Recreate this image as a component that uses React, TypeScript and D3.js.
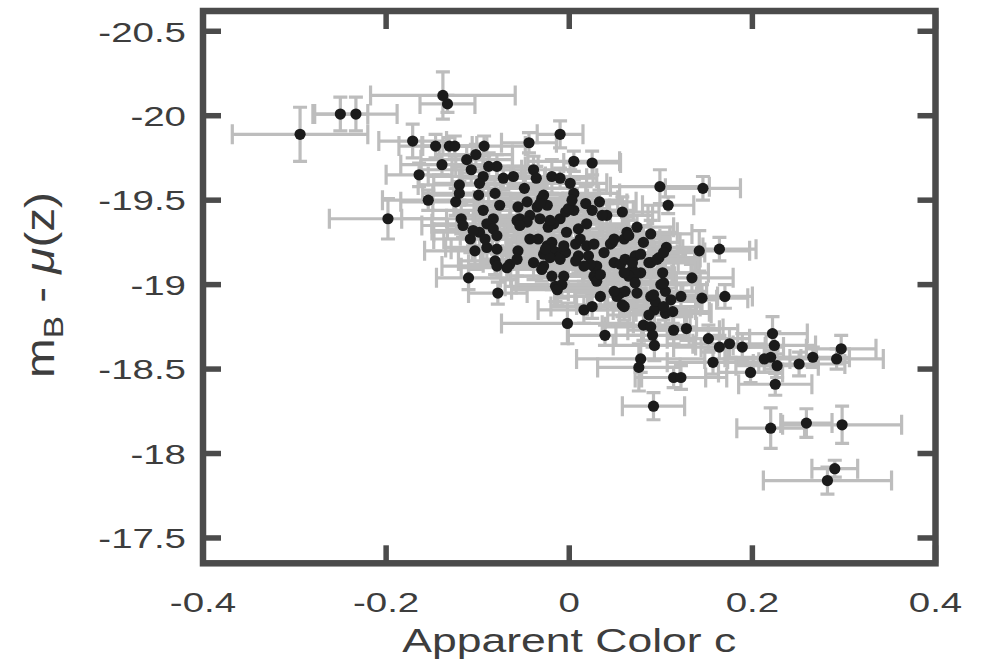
import { useEffect, useRef } from 'react';
import * as d3 from 'd3';

const W = 987;
const H = 669;

// apparent colour c of each supernova
const colorC = [
  -0.294, -0.250, -0.233, -0.138, -0.133, -0.171, -0.146, -0.131, -0.125, -0.093,
  -0.044, -0.010, -0.139, -0.164, -0.154, -0.198, -0.110, -0.078, 0.005, 0.025,
  0.099, 0.146, 0.108, -0.112, -0.102, -0.107, -0.079, -0.088, -0.094, -0.098,
  -0.120, -0.124, -0.120, -0.099, -0.072, -0.061, -0.049, -0.039, -0.036, -0.019,
  -0.010, -0.094, -0.081, -0.076, -0.083, -0.090, -0.118, -0.116, -0.098, -0.108,
  -0.103, -0.090, -0.079, -0.081, -0.079, -0.065, -0.056, -0.057, -0.056, -0.046,
  -0.054, -0.043, -0.035, -0.028, -0.024, -0.032, -0.023, -0.010, -0.003, -0.034,
  -0.024, -0.039, -0.028, -0.013, -0.019, -0.083, -0.004, 0.005, 0.018, 0.033,
  0.005, 0.025, 0.041, 0.058, 0.010, 0.019, 0.074, 0.063, 0.089, 0.060,
  0.081, 0.007, 0.045, 0.038, -0.004, 0.010, 0.021, 0.030, 0.049, 0.056,
  0.072, 0.078, 0.087, 0.098, 0.106, 0.102, 0.069, 0.078, 0.142, 0.164,
  0.134, -0.006, 0.145, 0.170, 0.105, 0.089, 0.122, 0.093, 0.105, 0.113,
  0.081, 0.089, 0.091, 0.093, 0.114, 0.128, 0.039, -0.002, 0.016, 0.025,
  0.078, 0.076, 0.114, 0.122, 0.152, 0.164, 0.175, 0.189, 0.157, 0.198,
  0.222, 0.224, 0.220, 0.213, 0.227, 0.225, 0.251, 0.266, 0.292, 0.297,
  0.092, -0.019, -0.019, 0.028, 0.027, 0.030, -0.015, 0.034, 0.047, 0.072,
  0.065, 0.072, 0.056, 0.061, 0.052, 0.089, 0.096, 0.058, 0.100, 0.094,
  0.074, 0.034, -0.008, -0.030, -0.013, -0.092, -0.068, -0.028, -0.021, -0.010,
  0.007, 0.023, 0.049, 0.060, 0.061, 0.069, 0.065, 0.103, 0.092, 0.103,
  0.103, 0.111, 0.087, 0.060, 0.036, -0.001, 0.001, 0.003, 0.012, 0.019,
  -0.030, -0.057, -0.046, -0.017, -0.105, -0.079, -0.043, 0.016, 0.220, 0.259,
  0.298, 0.290, 0.282, -0.054, -0.032, -0.021, -0.026, -0.006, 0.027, 0.049,
];

// m_B - mu(z)
const magDiff = [
  -19.89, -20.01, -20.01, -20.12, -20.07, -19.85, -19.82, -19.82, -19.82, -19.82,
  -19.84, -19.89, -19.71, -19.65, -19.50, -19.39, -19.04, -18.95, -19.73, -19.72,
  -19.58, -19.57, -19.47, -19.74, -19.77, -19.68, -19.70, -19.70, -19.64, -19.60,
  -19.59, -19.49, -19.54, -19.53, -19.63, -19.64, -19.57, -19.68, -19.63, -19.64,
  -19.63, -19.44, -19.54, -19.47, -19.39, -19.36, -19.39, -19.35, -19.31, -19.27,
  -19.20, -19.22, -19.21, -19.14, -19.11, -19.12, -19.20, -19.15, -19.46, -19.49,
  -19.39, -19.41, -19.46, -19.53, -19.47, -19.39, -19.34, -19.39, -19.31, -19.27,
  -19.23, -19.13, -19.11, -19.19, -19.05, -19.33, -19.43, -19.54, -19.48, -19.49,
  -19.44, -19.44, -19.41, -19.43, -19.33, -19.36, -19.34, -19.31, -19.30, -19.27,
  -19.25, -19.24, -19.24, -19.19, -19.19, -19.17, -19.17, -19.11, -19.13, -19.12,
  -19.17, -19.18, -19.13, -19.16, -19.22, -19.07, -19.09, -19.07, -19.20, -19.21,
  -19.04, -19.05, -18.92, -18.93, -18.96, -18.93, -18.93, -18.85, -18.83, -18.84,
  -18.76, -18.75, -18.70, -18.64, -18.73, -18.74, -18.70, -18.77, -18.85, -18.87,
  -18.56, -18.51, -18.45, -18.45, -18.68, -18.63, -18.65, -18.63, -18.54, -18.48,
  -18.71, -18.64, -18.57, -18.56, -18.52, -18.41, -18.53, -18.57, -18.56, -18.62,
  -18.28, -19.25, -19.21, -19.10, -19.05, -19.02, -18.99, -18.93, -19.25, -19.06,
  -19.05, -19.01, -18.95, -18.96, -18.93, -19.13, -19.15, -18.88, -19.00, -18.90,
  -18.95, -19.06, -19.00, -19.09, -18.97, -19.27, -19.10, -19.18, -19.16, -19.15,
  -19.14, -19.12, -18.96, -19.07, -19.15, -19.13, -19.29, -19.01, -18.94, -19.19,
  -18.87, -18.91, -18.82, -18.87, -19.41, -19.45, -19.60, -19.50, -19.27, -19.23,
  -19.51, -19.38, -19.37, -19.36, -19.32, -19.29, -19.27, -19.11, -18.15, -18.18,
  -18.17, -17.91, -17.84, -19.35, -19.48, -19.38, -19.21, -19.23, -19.24, -19.27,
];

const colorErr = [
  0.074, 0.030, 0.045, 0.079, 0.030, 0.037, 0.040, 0.030, 0.035, 0.045,
  0.030, 0.025, 0.045, 0.036, 0.050, 0.064, 0.035, 0.032, 0.050, 0.031,
  0.054, 0.041, 0.028, 0.050, 0.040, 0.055, 0.045, 0.040, 0.060, 0.050,
  0.045, 0.060, 0.040, 0.050, 0.045, 0.035, 0.050, 0.040, 0.055, 0.045,
  0.040, 0.055, 0.045, 0.050, 0.040, 0.060, 0.065, 0.045, 0.050, 0.040,
  0.055, 0.045, 0.050, 0.040, 0.060, 0.045, 0.050, 0.040, 0.045, 0.055,
  0.040, 0.050, 0.045, 0.060, 0.040, 0.050, 0.045, 0.055, 0.040, 0.050,
  0.045, 0.055, 0.040, 0.050, 0.045, 0.050, 0.040, 0.050, 0.045, 0.040,
  0.055, 0.045, 0.050, 0.040, 0.050, 0.045, 0.040, 0.055, 0.045, 0.050,
  0.040, 0.050, 0.045, 0.055, 0.040, 0.050, 0.045, 0.040, 0.050, 0.045,
  0.055, 0.040, 0.050, 0.045, 0.040, 0.050, 0.045, 0.055, 0.055, 0.040,
  0.045, 0.050, 0.050, 0.030, 0.045, 0.050, 0.040, 0.045, 0.050, 0.040,
  0.045, 0.050, 0.040, 0.045, 0.050, 0.040, 0.040, 0.072, 0.050, 0.045,
  0.070, 0.045, 0.035, 0.050, 0.045, 0.050, 0.040, 0.045, 0.050, 0.035,
  0.038, 0.045, 0.050, 0.040, 0.045, 0.040, 0.050, 0.040, 0.051, 0.038,
  0.034, 0.050, 0.045, 0.050, 0.045, 0.040, 0.055, 0.050, 0.045, 0.040,
  0.050, 0.045, 0.050, 0.040, 0.045, 0.050, 0.045, 0.050, 0.040, 0.045,
  0.050, 0.045, 0.050, 0.045, 0.050, 0.045, 0.050, 0.045, 0.040, 0.050,
  0.045, 0.040, 0.050, 0.045, 0.040, 0.050, 0.045, 0.040, 0.050, 0.045,
  0.040, 0.050, 0.045, 0.040, 0.050, 0.045, 0.040, 0.050, 0.045, 0.040,
  0.050, 0.045, 0.040, 0.050, 0.045, 0.040, 0.050, 0.045, 0.037, 0.028,
  0.065, 0.025, 0.070, 0.050, 0.045, 0.055, 0.040, 0.050, 0.045, 0.050,
];

const magErr = [
  0.16, 0.10, 0.10, 0.14, 0.05, 0.10, 0.07, 0.05, 0.06, 0.06,
  0.06, 0.08, 0.06, 0.07, 0.06, 0.12, 0.07, 0.065, 0.06, 0.07,
  0.10, 0.07, 0.05, 0.08, 0.06, 0.09, 0.07, 0.08, 0.10, 0.07,
  0.09, 0.08, 0.07, 0.11, 0.07, 0.06, 0.09, 0.08, 0.07, 0.10,
  0.06, 0.09, 0.08, 0.07, 0.10, 0.08, 0.09, 0.07, 0.10, 0.08,
  0.11, 0.07, 0.09, 0.08, 0.07, 0.09, 0.08, 0.10, 0.07, 0.09,
  0.08, 0.07, 0.10, 0.08, 0.07, 0.09, 0.08, 0.10, 0.07, 0.09,
  0.08, 0.10, 0.07, 0.09, 0.08, 0.07, 0.09, 0.08, 0.10, 0.07,
  0.09, 0.08, 0.07, 0.09, 0.08, 0.10, 0.07, 0.09, 0.08, 0.07,
  0.10, 0.08, 0.09, 0.07, 0.08, 0.10, 0.07, 0.09, 0.08, 0.07,
  0.10, 0.08, 0.09, 0.07, 0.08, 0.10, 0.07, 0.09, 0.12, 0.07,
  0.08, 0.09, 0.08, 0.07, 0.08, 0.09, 0.07, 0.08, 0.10, 0.07,
  0.09, 0.08, 0.07, 0.09, 0.08, 0.07, 0.06, 0.12, 0.08, 0.07,
  0.08, 0.14, 0.06, 0.07, 0.08, 0.07, 0.09, 0.08, 0.07, 0.06,
  0.10, 0.08, 0.07, 0.08, 0.07, 0.065, 0.07, 0.06, 0.06, 0.08,
  0.08, 0.08, 0.07, 0.09, 0.08, 0.07, 0.09, 0.08, 0.07, 0.09,
  0.08, 0.07, 0.09, 0.08, 0.07, 0.09, 0.08, 0.07, 0.09, 0.08,
  0.07, 0.09, 0.08, 0.07, 0.09, 0.08, 0.07, 0.09, 0.08, 0.07,
  0.09, 0.08, 0.07, 0.09, 0.08, 0.07, 0.09, 0.08, 0.07, 0.09,
  0.08, 0.07, 0.09, 0.08, 0.07, 0.09, 0.08, 0.07, 0.09, 0.08,
  0.07, 0.09, 0.08, 0.07, 0.09, 0.08, 0.07, 0.09, 0.12, 0.085,
  0.11, 0.05, 0.08, 0.09, 0.08, 0.10, 0.08, 0.09, 0.07, 0.08,
];

const xTicks = [-0.4, -0.2, 0, 0.2, 0.4];
const yTicks = [-20.5, -20, -19.5, -19, -18.5, -18, -17.5];
const xLimits = [-0.4, 0.4];
const yLimits = [-20.62, -17.35];

const FONT = "'Liberation Sans', Arial, Helvetica, sans-serif";
const TEXT = '#3d3d3d';
const AXIS = '#4b4b4b';

// plain hyphen minus, like the original figure
const fmt = (t: number) => String(t);

export default function App() {
  const ref = useRef<SVGSVGElement>(null);

  useEffect(() => {
    const svg = d3.select(ref.current);
    svg.selectAll('*').remove();

    const left = 203;
    const right = 935.5;
    const top = 11;
    const bottom = 563.3;

    const x = d3.scaleLinear().domain(xLimits).range([left, right]);
    const y = d3.scaleLinear().domain(yLimits).range([top, bottom]);

    svg.append('rect').attr('width', W).attr('height', H).attr('fill', '#fff');

    const idx = d3.range(colorC.length);

    // error bars
    const bars = svg.append('g').attr('stroke', '#bdbdbd').attr('stroke-width', 3.2).attr('fill', 'none');
    const xCap = 10;
    const yCap = 7;
    idx.forEach((i) => {
      const cx = x(colorC[i]);
      const cy = y(magDiff[i]);
      const x0 = x(colorC[i] - colorErr[i]);
      const x1 = x(colorC[i] + colorErr[i]);
      const y0 = y(magDiff[i] - magErr[i]);
      const y1 = y(magDiff[i] + magErr[i]);
      const p = d3.path();
      p.moveTo(x0, cy); p.lineTo(x1, cy);
      p.moveTo(x0, cy - xCap); p.lineTo(x0, cy + xCap);
      p.moveTo(x1, cy - xCap); p.lineTo(x1, cy + xCap);
      p.moveTo(cx, y0); p.lineTo(cx, y1);
      p.moveTo(cx - yCap, y0); p.lineTo(cx + yCap, y0);
      p.moveTo(cx - yCap, y1); p.lineTo(cx + yCap, y1);
      bars.append('path').attr('d', p.toString());
    });

    // points
    svg.append('g')
      .selectAll('circle')
      .data(idx)
      .enter()
      .append('circle')
      .attr('cx', (i) => x(colorC[i]))
      .attr('cy', (i) => y(magDiff[i]))
      .attr('r', 5.6)
      .attr('fill', '#1b1b1b');

    // box + ticks
    const axis = svg.append('g').attr('stroke', AXIS).attr('fill', 'none');
    const tl = 18;
    xTicks.forEach((t) => {
      axis.append('line').attr('x1', x(t)).attr('x2', x(t)).attr('y1', bottom).attr('y2', bottom - tl).attr('stroke-width', 5.5);
      axis.append('line').attr('x1', x(t)).attr('x2', x(t)).attr('y1', top).attr('y2', top + tl).attr('stroke-width', 5.5);
    });
    yTicks.forEach((t) => {
      axis.append('line').attr('x1', left).attr('x2', left + tl).attr('y1', y(t)).attr('y2', y(t)).attr('stroke-width', 5.5);
      axis.append('line').attr('x1', right).attr('x2', right - tl).attr('y1', y(t)).attr('y2', y(t)).attr('stroke-width', 5.5);
    });
    axis.append('rect')
      .attr('x', left).attr('y', top)
      .attr('width', right - left).attr('height', bottom - top)
      .attr('stroke-width', 6.5);

    // tick labels (the original type is set wide)
    const stretch = 1.35;
    xTicks.forEach((t) => {
      svg.append('g')
        .attr('transform', `translate(${x(t)},${611.5}) scale(${stretch},1)`)
        .append('text')
        .attr('text-anchor', 'middle')
        .attr('font-family', FONT)
        .attr('font-size', 28.5)
        .attr('fill', TEXT)
        .text(fmt(t));
    });
    yTicks.forEach((t) => {
      svg.append('g')
        .attr('transform', `translate(186,${y(t) + 10.3}) scale(${stretch},1)`)
        .append('text')
        .attr('text-anchor', 'end')
        .attr('font-family', FONT)
        .attr('font-size', 28.5)
        .attr('fill', TEXT)
        .text(fmt(t));
    });

    // axis titles
    svg.append('g')
      .attr('transform', `translate(${(left + right) / 2},651.5) scale(1.37,1)`)
      .append('text')
      .attr('text-anchor', 'middle')
      .attr('font-family', FONT)
      .attr('font-size', 32.5)
      .attr('fill', TEXT)
      .text('Apparent Color c');

    const yl = svg.append('text')
      .attr('transform', 'translate(54,285) rotate(-90)')
      .attr('text-anchor', 'middle')
      .attr('font-family', FONT)
      .attr('font-size', 40)
      .attr('fill', TEXT)
      .attr('textLength', 186)
      .attr('lengthAdjust', 'spacingAndGlyphs');
    yl.append('tspan').text('m');
    yl.append('tspan').attr('font-size', 28).attr('dy', 9).text('B');
    yl.append('tspan').attr('dy', -9).text(' - ');
    yl.append('tspan').attr('font-style', 'italic').text('μ');
    yl.append('tspan').text('(z)');
  }, []);

  return (
    <svg
      ref={ref}
      width={W}
      height={H}
      style={{ position: 'absolute', left: 0, top: 0, display: 'block' }}
    />
  );
}
